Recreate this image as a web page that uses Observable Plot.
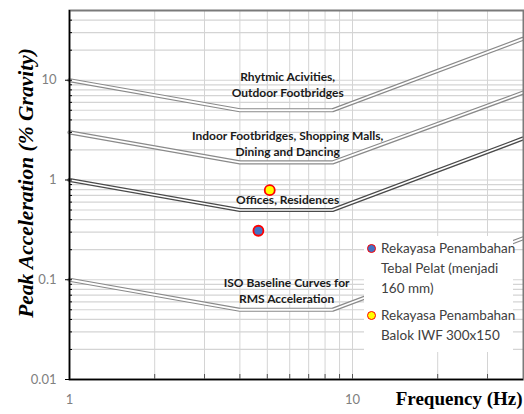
<!DOCTYPE html>
<html><head><meta charset="utf-8">
<script src="https://cdn.jsdelivr.net/npm/d3@7"></script>
<script src="https://cdn.jsdelivr.net/npm/@observablehq/plot@0.6"></script>
<style>
body{margin:0;background:#fff;}
#wrap{position:relative;width:524px;height:414px;overflow:hidden;}
#legend{position:absolute;left:364px;top:236px;width:149px;height:116px;background:#fff;font-family:Lato,"Open Sans",sans-serif;font-size:13.5px;color:#404040;}
#legend .item{position:absolute;left:17px;line-height:20px;white-space:nowrap;}
#legend .dot{position:absolute;left:3px;width:7px;height:7px;border-radius:50%;border:1.6px solid #ff0000;}
</style></head>
<body>
<div id="wrap"></div>
<script>
// axis ticks
const xTickValues = [1, 10];
const yTickValues = [0.01, 0.1, 1, 10];
const xGrid = [2, 3, 4, 5, 6, 7, 8, 9, 10, 20, 30];
const yGrid = [0.02, 0.03, 0.04, 0.05, 0.06, 0.07, 0.08, 0.09, 0.1,
               0.2, 0.3, 0.4, 0.5, 0.6, 0.7, 0.8, 0.9, 1,
               2, 3, 4, 5, 6, 7, 8, 9, 10, 20, 30, 40];

// curves (frequency Hz, peak acceleration % g)
const curveFreq = [1, 4, 8.5, 40];
const rhythmic = [10, 5, 5, 26];
const indoor = [3, 1.5, 1.5, 7.5];
const offices = [1, 0.5, 0.5, 2.6];
const baseline = [0.1, 0.05, 0.05, 0.26];

// curve labels
const labelText = ["Rhytmic Acivities,\nOutdoor Footbridges",
                   "Indoor Footbridges, Shopping Malls,\nDining and Dancing",
                   "Offices, Residences",
                   "ISO Baseline Curves for\nRMS Acceleration"];
const labelFreq = [5.9, 5.9, 5.9, 5.85];
const labelAcc = [9.2, 2.37, 0.65, 0.079];

// result points
const seriesNames = ["Rekayasa Penambahan Tebal Pelat (menjadi 160 mm)", "Rekayasa Penambahan Balok IWF 300x150"];
const pointFreq = [4.65, 5.1];
const pointAcc = [0.31, 0.79];
const pointColor = ["#4472c4", "#ffff00"];

const mk = arr => curveFreq.map((f, i) => ({f, a: arr[i]}));
const greyCurves = [rhythmic, indoor, baseline].flatMap((arr, k) => mk(arr).map(d => ({...d, c: k})));
const officeCurve = mk(offices);
const labels = labelText.map((t, i) => ({t, f: labelFreq[i], a: labelAcc[i]}));
const points = seriesNames.map((s, i) => ({s, f: pointFreq[i], a: pointAcc[i], col: pointColor[i]}));

const font = "Lato, 'Open Sans', sans-serif";
const serif = "'Liberation Serif', 'DejaVu Serif', serif";

const chart = Plot.plot({
  width: 524, height: 414,
  marginLeft: 69, marginTop: 10, marginRight: 1, marginBottom: 35,
  x: {type: "log", domain: [1, 40.2], label: null},
  y: {type: "log", domain: [0.01, 50], label: null},
  color: {type: "identity"},
  style: {background: "#fff"},
  marks: [
    Plot.ruleX(xGrid, {stroke: "#d4d4d4", strokeWidth: 1}),
    Plot.ruleY(yGrid, {stroke: "#d4d4d4", strokeWidth: 1.2}),
    Plot.line(greyCurves, {x: "f", y: "a", z: "c", stroke: "#8a8a8a", strokeWidth: 4.2}),
    Plot.line(greyCurves, {x: "f", y: "a", z: "c", stroke: "#fff", strokeWidth: 1.8}),
    Plot.line(officeCurve, {x: "f", y: "a", stroke: "#4a4a4a", strokeWidth: 4.2}),
    Plot.line(officeCurve, {x: "f", y: "a", stroke: "#fff", strokeWidth: 1.6}),
    Plot.text(labels, {x: "f", y: "a", text: "t", fontFamily: font, fontWeight: "bold", fontSize: 12, fill: "#1a1a1a", lineHeight: 1.35}),
    Plot.dot(points, {x: "f", y: "a", r: 5, fill: "col", stroke: "#ff0000", strokeWidth: 1.8}),
    Plot.frame({stroke: "#7a7a7a", strokeWidth: 2}),
    Plot.ruleX([1], {stroke: "#000", strokeWidth: 1.5}),
    Plot.ruleY([0.01], {stroke: "#000", strokeWidth: 1.5}),
    Plot.axisY(yTickValues, {anchor: "left", tickSize: 4, tickPadding: 9, tickFormat: d => String(d), stroke: "#000", fill: "#808080", fontSize: 13, fontFamily: font, label: null}),
    Plot.axisY(yGrid, {anchor: "left", tickSize: -3, tickFormat: () => "", stroke: "#000", label: null}),
    Plot.axisX(xTickValues, {anchor: "bottom", tickSize: 0, tickPadding: 15, tickFormat: d => String(d), fill: "#808080", fontSize: 13, fontFamily: font, label: null}),
    Plot.axisX(xGrid, {anchor: "bottom", tickSize: -5, tickFormat: () => "", stroke: "#555", label: null}),
    Plot.text(["Peak Acceleration (% Gravity)"], {frameAnchor: "left", dx: -43, dy: -12, rotate: -90, textAnchor: "middle", text: d => d, fontFamily: serif, fontWeight: "bold", fontStyle: "italic", fontSize: 21.5, fill: "#000"}),
    Plot.text(["Frequency (Hz)"], {frameAnchor: "bottom-right", dy: 25, dx: -1, textAnchor: "end", text: d => d, fontFamily: serif, fontWeight: "bold", fontSize: 19, fill: "#000"})
  ]
});
const wrap = document.getElementById("wrap");
wrap.appendChild(chart);

// legend
const leg = document.createElement("div");
leg.id = "legend";
const tops = [[2, 22, 42], [69, 89]];
const lines = [["Rekayasa Penambahan", "Tebal Pelat (menjadi", "160 mm)"], ["Rekayasa Penambahan", "Balok IWF 300x150"]];
seriesNames.forEach((s, i) => {
  const dot = document.createElement("div");
  dot.className = "dot";
  dot.style.top = (tops[i][0] + 5.5) + "px";
  dot.style.background = pointColor[i];
  leg.appendChild(dot);
  lines[i].forEach((t, j) => {
    const el = document.createElement("div");
    el.className = "item";
    el.style.top = tops[i][j] + "px";
    el.textContent = t;
    leg.appendChild(el);
  });
});
wrap.appendChild(leg);
</script>
</body></html>
